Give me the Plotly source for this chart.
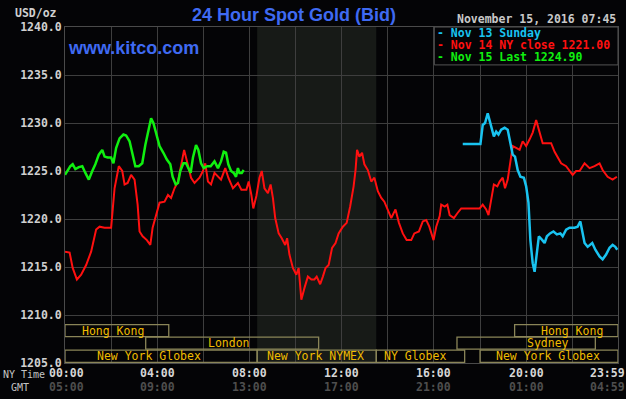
import plotly.graph_objects as go

# ---------------- data ----------------
red_time = ["00:00","00:12","00:20","00:31","00:42","00:55","01:08","01:21","01:30","01:43",
            "02:00","02:09","02:20","02:29","02:35","02:43","02:52","03:01","03:09","03:14",
            "03:22","03:33","03:42","03:48","03:57","04:06","04:19","04:28","04:36","04:45",
            "04:54","05:02","05:10","05:20","05:28","05:37","05:50","05:59","06:05","06:12",
            "06:20","06:29","06:38","06:46","06:57","07:05","07:17","07:30","07:39","07:52",
            "07:58","08:05","08:10","08:18","08:26","08:32","08:39","08:48","08:55","09:01",
            "09:07","09:16","09:24","09:33","09:38","09:44","09:53","10:02","10:08","10:15",
            "10:23","10:32","10:41","10:49","10:55","11:04","11:11","11:18","11:26","11:35",
            "11:44","11:52","12:03","12:13","12:22","12:31","12:36","12:40","12:46","12:53",
            "12:59","13:08","13:17","13:25","13:34","13:43","13:51","14:00","14:09","14:20",
            "14:29","14:39","14:49","15:01","15:09","15:21","15:31","15:40","15:48","15:59",
            "16:06","16:15","16:19","16:28","16:35","16:41","16:52","17:01","17:11","17:28",
            "17:46","17:59","18:07","18:16","18:22","18:29","18:36","18:45","18:51","18:59",
            "19:05","19:12","19:19","19:25","19:34","19:43","19:51","20:00","20:09","20:17",
            "20:26","20:35","20:43","20:52","21:05","21:14","21:22","21:31","21:44","21:53",
            "22:01","22:10","22:19","22:32","22:45","22:58","23:11","23:19","23:32","23:45",
            "23:56"]
red_val = [1216.6,1216.5,1214.9,1213.7,1214.2,1215.2,1216.6,1218.9,1219.2,1219.1,
           1219.1,1223.2,1225.5,1225.0,1223.6,1223.75,1224.6,1224.1,1221.5,1218.7,
           1218.2,1217.8,1217.3,1219.1,1220.4,1221.7,1221.8,1222.5,1222.2,1223.2,
           1223.9,1225.7,1227.2,1225.6,1224.3,1223.75,1224.3,1225.0,1225.8,1223.9,
           1223.6,1224.8,1224.4,1224.1,1225.3,1224.3,1223.2,1223.75,1223.05,1223.05,
           1223.9,1222.5,1221.1,1222.4,1224.3,1225.0,1223.2,1222.7,1223.6,1222.2,
           1220.1,1218.5,1218.0,1217.3,1218.0,1216.3,1214.9,1214.2,1214.9,1211.6,
           1212.8,1214.0,1213.7,1213.7,1214.0,1213.2,1214.0,1214.9,1215.2,1217.0,
           1217.5,1218.5,1219.2,1219.6,1221.3,1223.4,1225.1,1227.2,1226.5,1226.9,
           1225.7,1225.1,1223.9,1224.3,1222.9,1222.2,1221.8,1221.0,1220.1,1221.0,
           1219.6,1218.5,1217.8,1217.8,1218.5,1218.7,1219.75,1219.9,1219.2,1217.8,
           1219.2,1220.3,1221.5,1221.3,1221.5,1220.4,1220.1,1220.6,1221.1,1221.1,
           1221.1,1221.1,1221.5,1221.0,1220.4,1222.0,1223.6,1223.4,1223.9,1224.3,
           1223.2,1224.1,1226.2,1227.6,1227.4,1227.2,1228.1,1227.6,1228.3,1229.0,
           1230.3,1229.1,1227.9,1227.9,1227.9,1227.0,1226.4,1225.8,1225.5,1225.0,
           1224.6,1225.0,1225.0,1225.8,1225.3,1225.5,1225.8,1225.1,1224.4,1224.1,
           1224.4]

green_time = ["00:00","00:07","00:14","00:20","00:27","00:36","00:45","00:53","01:02","01:11",
              "01:19","01:28","01:37","01:43","01:51","02:00","02:06","02:13","02:22","02:32",
              "02:39","02:48","02:56","03:03","03:12","03:21","03:29","03:38","03:44","03:50",
              "03:57","04:06","04:16","04:25","04:34","04:40","04:48","04:54","05:00","05:08",
              "05:15","05:20","05:27","05:33","05:41","05:47","05:54","06:01","06:10","06:19",
              "06:29","06:38","06:46","06:53","06:59","07:05","07:12","07:19","07:25","07:30",
              "07:34","07:40","07:45"]
green_val = [1224.6,1225.0,1225.5,1225.7,1225.2,1225.4,1225.5,1224.8,1224.1,1225.0,
             1225.7,1226.7,1227.2,1226.5,1226.4,1226.4,1225.8,1227.4,1228.4,1228.8,
             1228.7,1228.1,1226.7,1225.5,1225.5,1225.8,1227.7,1229.3,1230.5,1230.0,
             1228.8,1227.6,1226.9,1226.2,1225.7,1224.4,1223.6,1223.75,1225.0,1225.8,
             1225.8,1225.3,1224.8,1226.4,1227.7,1227.2,1225.8,1225.3,1225.5,1225.5,
             1226.0,1225.3,1226.0,1227.0,1226.9,1225.7,1225.0,1224.8,1224.4,1225.3,
             1224.8,1224.8,1225.1]

cyan_time = ["17:15","18:01","18:07","18:13","18:20","18:25","18:29","18:36","18:42","18:48",
             "18:55","19:04","19:12","19:19","19:25","19:31","19:38","19:45","19:54","20:00",
             "20:06","20:11","20:17","20:22","20:26","20:33","20:42","20:48","20:54","21:02",
             "21:11","21:20","21:29","21:35","21:44","21:53","22:06","22:14","22:21","22:27",
             "22:32","22:40","22:52","23:00","23:11","23:19","23:28","23:37","23:45","23:52",
             "23:57"]
cyan_val = [1227.8,1227.8,1229.8,1230.0,1231.0,1230.2,1229.6,1228.6,1229.1,1228.8,
            1229.3,1229.5,1229.3,1227.9,1226.7,1226.5,1225.1,1224.4,1224.3,1223.4,
            1221.7,1217.8,1215.4,1214.5,1215.8,1218.2,1217.8,1217.5,1218.2,1218.5,
            1218.7,1218.4,1218.5,1218.2,1218.9,1219.1,1219.1,1219.2,1219.75,1218.5,
            1217.5,1217.1,1217.5,1216.8,1216.1,1215.8,1216.3,1217.0,1217.3,1217.1,
            1216.8]

ny_ticks = ["00:00", "04:00", "08:00", "12:00", "16:00", "20:00", "23:59"]
gmt_ticks = ["05:00", "09:00", "13:00", "17:00", "21:00", "01:00", "04:59"]
y_ticks = [1205, 1210, 1215, 1220, 1225, 1230, 1235, 1240]

# sessions: (label, start, end, row, label centre)
sessions = [
    ("Hong Kong",       "00:00", "04:30", 2, "02:06"),
    ("London",          "03:30", "11:00", 1, "07:08"),
    ("New York Globex", "00:00", "08:20", 0, "03:38"),
    ("New York NYMEX",  "08:20", "13:30", 0, "10:53"),
    ("NY Globex",       "13:30", "17:20", 0, "15:11"),
    ("Sydney",          "17:00", "23:00", 1, "20:57"),
    ("New York Globex", "18:00", "23:59", 0, "20:57"),
    ("Hong Kong",       "19:30", "23:59", 2, "22:00"),
]
nymex_shade = ("08:20", "13:30")

legend_items = [("Nov 13 Sunday", "#19c3f0"),
                ("Nov 14 NY close 1221.00", "#ff1010"),
                ("Nov 15 Last 1224.90", "#10f010")]


def to_min(t):
    h, m = t.split(":")
    return int(h) * 60 + int(m)


MONO = "DejaVu Sans Mono"
SANS = "Liberation Sans"
BG = "#040406"
GRID = "#3e3e3e"
BOX = "#8a8558"
GOLD = "#f0bc00"

fig = go.Figure()
fig.add_trace(go.Scatter(x=[to_min(t) for t in red_time], y=red_val, mode="lines",
                         line=dict(color="#ff1010", width=2), showlegend=False))
fig.add_trace(go.Scatter(x=[to_min(t) for t in green_time], y=green_val, mode="lines",
                         line=dict(color="#10f010", width=2.5), showlegend=False))
fig.add_trace(go.Scatter(x=[to_min(t) for t in cyan_time], y=cyan_val, mode="lines",
                         line=dict(color="#19c3f0", width=2.5), showlegend=False))

shapes = []
# NYMEX shading
shapes.append(dict(type="rect", xref="x", yref="paper", x0=to_min(nymex_shade[0]),
                   x1=to_min(nymex_shade[1]), y0=0, y1=1, fillcolor="#171a17",
                   line=dict(width=0), layer="below"))
rows = [(1205.05, 1206.35), (1206.45, 1207.7), (1207.75, 1209.0)]
annotations = []
for label, s, e, r, c in sessions:
    y0, y1 = rows[r]
    shapes.append(dict(type="rect", xref="x", yref="y", x0=to_min(s), x1=to_min(e),
                       y0=y0, y1=y1, line=dict(color=BOX, width=1.3),
                       fillcolor="rgba(0,0,0,0)", layer="above"))
    annotations.append(dict(text=label, x=to_min(c), y=(y0 + y1) / 2, xref="x", yref="y",
                            showarrow=False, font=dict(family=MONO, size=11.5, color=GOLD)))

# legend box
shapes.append(dict(type="rect", xref="x", yref="y", x0=961, x1=1439, y0=1236.05, y1=1240,
                   fillcolor=BG, line=dict(color="#555555", width=1), layer="above"))
for i, (txt, col) in enumerate(legend_items):
    annotations.append(dict(text="- " + txt, x=966, xanchor="left",
                            y=1239.35 - i * 1.25, yanchor="middle", xref="x", yref="y",
                            showarrow=False, borderpad=0,
                            font=dict(family=MONO, size=11.5, color=col, weight="bold")))

# x labels (two rows)
ny_pos = [0, 240, 480, 720, 960, 1200, 1439]
for i, (a, b) in enumerate(zip(ny_ticks, gmt_ticks)):
    if i == len(ny_ticks) - 1:
        shift = -11
    elif i == 0:
        shift = 1
    else:
        shift = 0
    annotations.append(dict(text=a, x=ny_pos[i], y=-0.031, xref="x", yref="paper",
                            xshift=shift, showarrow=False, yanchor="middle", borderpad=0,
                            font=dict(family=MONO, size=11.5, color="#d6d6d6", weight="bold")))
    annotations.append(dict(text=b, x=ny_pos[i], y=-0.072, xref="x", yref="paper",
                            xshift=shift, showarrow=False, yanchor="middle", borderpad=0,
                            font=dict(family=MONO, size=11.5, color="#4e4e4e", weight="bold")))

annotations.append(dict(text="NY Time", x=-0.1139, xanchor="left", y=-0.035, xref="paper",
                        yref="paper", yanchor="middle", showarrow=False, borderpad=0,
                        font=dict(family=MONO, size=10, color="#c4c4c4")))
annotations.append(dict(text="GMT", x=-0.0995, xanchor="left", y=-0.072, xref="paper",
                        yref="paper", yanchor="middle", showarrow=False, borderpad=0,
                        font=dict(family=MONO, size=10, color="#c4c4c4")))
annotations.append(dict(text="USD/oz", x=-0.01, xanchor="right", y=1.042, xref="paper",
                        yref="paper", yanchor="middle", showarrow=False,
                        font=dict(family=MONO, size=11.5, color="#d0d0d0", weight="bold")))
annotations.append(dict(text="24 Hour Spot Gold (Bid)", x=0.415, xanchor="center", y=1.036,
                        xref="paper", yref="paper", yanchor="middle", showarrow=False,
                        font=dict(family=SANS, size=18, color="#3f6af2", weight="bold")))
annotations.append(dict(text="November 15, 2016 07:45", x=1.0, xanchor="right", y=1.025,
                        xref="paper", yref="paper", yanchor="middle", showarrow=False,
                        font=dict(family=MONO, size=11.5, color="#c8c8c8", weight="bold")))
annotations.append(dict(text="www.kitco.com", x=0.002, xanchor="left", y=1237.85,
                        xref="paper", yref="y", yanchor="middle", showarrow=False,
                        font=dict(family=SANS, size=18, color="#3f6af2", weight="bold")))

fig.update_layout(
    width=626, height=399,
    margin=dict(l=65, r=8, t=27, b=36, autoexpand=False),
    paper_bgcolor=BG, plot_bgcolor=BG,
    shapes=shapes, annotations=annotations,
    showlegend=False,
    xaxis=dict(range=[0, 1439], tick0=0, dtick=120, showticklabels=False,
               showgrid=True, gridcolor=GRID, gridwidth=1, zeroline=False,
               showline=True, linecolor="#4a4a4a", mirror=True, ticks="",
               automargin=False),
    yaxis=dict(range=[1205, 1240], tickvals=y_ticks, tickformat=".1f",
               showgrid=True, gridcolor=GRID, gridwidth=1, zeroline=False,
               showline=True, linecolor="#4a4a4a", mirror=True, ticks="",
               automargin=False,
               tickfont=dict(family=MONO, size=11.5, color="#d0d0d0", weight="bold")),
)

fig.write_html("out.html", config={"displayModeBar": False},
               post_script="document.body.style.margin='0';document.body.style.overflow='hidden';document.body.style.background='#040406';")
